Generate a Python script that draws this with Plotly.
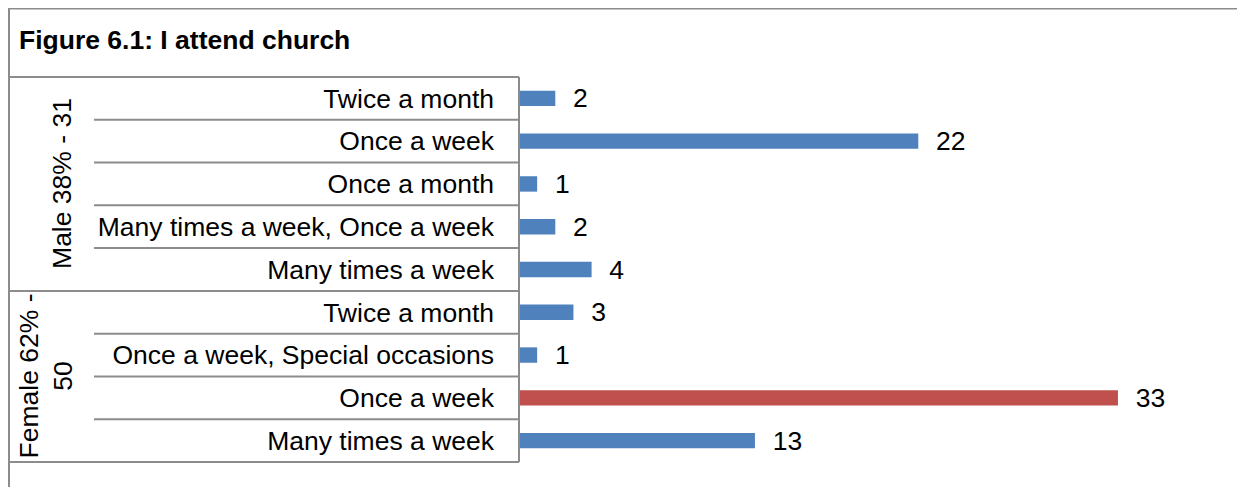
import plotly.graph_objects as go

# ---- data ----
groups = ["Male 38% - 31", "Female 62% -<br>50"]
group_sizes = [5, 4]
categories = [
    "Twice a month",
    "Once a week",
    "Once a month",
    "Many times a week, Once a week",
    "Many times a week",
    "Twice a month",
    "Once a week, Special occasions",
    "Once a week",
    "Many times a week",
]
values = [2, 22, 1, 2, 4, 3, 1, 33, 13]
highlight = [False, False, False, False, False, False, False, True, False]

# ---- styling ----
# page body has an 8px default margin, so the figure is 8px smaller
OFF = 8
W, H = 1245 - OFF, 487 - OFF
ML, MT, MB, MR = 519 - OFF, 77 - OFF, 25, 36
PW, PH = W - ML - MR, H - MT - MB
BLUE, RED = "#4F81BD", "#C0504D"
LINE = "#8C8C8C"
FONT = "Liberation Sans, Arial, sans-serif"
FS = 26.5

def px_x(p):
    return (p - OFF - ML) / PW

def px_y(p):
    return 1 - (p - OFF - MT) / PH

pos = list(range(len(categories)))
colors = [RED if h else BLUE for h in highlight]

fig = go.Figure()
fig.add_trace(go.Bar(
    x=values, y=pos, orientation="h",
    marker=dict(color=colors, line=dict(width=0)),
    width=0.36,
    text=["\u00a0\u00a0" + str(v) for v in values],
    textposition="outside",
    constraintext="none",
    textfont=dict(family=FONT, size=FS, color="#000000"),
    cliponaxis=False,
    hoverinfo="skip",
))

shapes = []
def line(x0, y0, x1, y1, xref="paper", yref="paper"):
    shapes.append(dict(type="line", xref=xref, yref=yref, x0=x0, y0=y0, x1=x1, y1=y1,
                       line=dict(color=LINE, width=2), layer="above"))

# outer frame (top and left)
line(px_x(9), px_y(8.5), px_x(1260), px_y(8.5))
line(px_x(9), px_y(8), px_x(9), px_y(500))
# table top / title box bottom
line(px_x(9), 1, 0, 1)
# table bottom
line(px_x(9), 0, 0, 0)
# axis line
line(0, 1, 0, 0)
# row separators
n = len(categories)
start = 0
for gi, size in enumerate(group_sizes):
    for k in range(1, size):
        yv = start + k - 0.5
        shapes.append(dict(type="line", xref="paper", yref="y", x0=px_x(94), x1=0,
                           y0=yv, y1=yv, line=dict(color=LINE, width=2), layer="above"))
    if gi < len(group_sizes) - 1:
        yv = start + size - 0.5
        shapes.append(dict(type="line", xref="paper", yref="y", x0=px_x(9), x1=0,
                           y0=yv, y1=yv, line=dict(color=LINE, width=2), layer="above"))
    start += size

annotations = [dict(
    text="<b>Figure 6.1: I attend church</b>", xref="paper", yref="paper",
    x=px_x(17), y=px_y(40), xanchor="left", yanchor="middle", showarrow=False,
    font=dict(family=FONT, size=FS, color="#000000"),
)]
start = 0
gx = [62, 46]
for gi, (g, size) in enumerate(zip(groups, group_sizes)):
    mid = start + (size - 1) / 2
    annotations.append(dict(
        text=g, xref="paper", yref="y", x=px_x(gx[gi]), y=mid,
        xanchor="center", yanchor="middle", textangle=-90, showarrow=False,
        font=dict(family=FONT, size=FS, color="#000000"),
    ))
    start += size

fig.update_layout(
    width=W, height=H,
    margin=dict(l=ML, r=MR, t=MT, b=MB, autoexpand=False),
    paper_bgcolor="white", plot_bgcolor="white",
    showlegend=False,
    bargap=0.6,
    xaxis=dict(range=[0, PW / 18.15], visible=False, showgrid=False, zeroline=False),
    yaxis=dict(
        tickmode="array", tickvals=pos, ticktext=categories,
        range=[n - 0.5, -0.5], showgrid=False, zeroline=False,
        showline=False, ticks="", ticklabelstandoff=24,
        tickfont=dict(family=FONT, size=FS, color="#000000"),
    ),
    shapes=shapes,
    annotations=annotations,
)

fig.write_html("out.html")
